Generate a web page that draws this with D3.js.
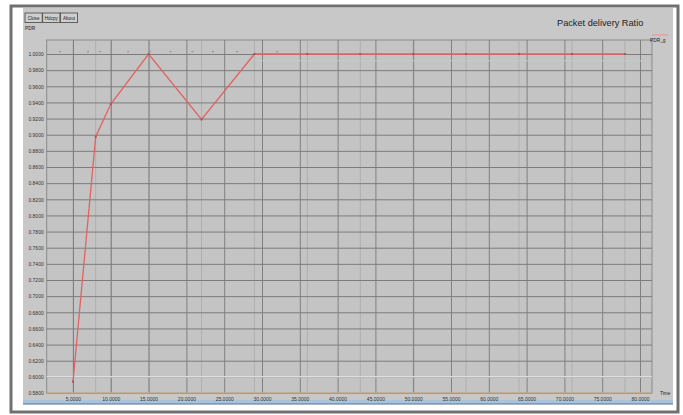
<!DOCTYPE html>
<html>
<head>
<meta charset="utf-8">
<script src="https://cdn.jsdelivr.net/npm/d3@7"></script>
<style>
body { margin: 0; background: #fff; }
svg { display: block; }
text { font-family: "Liberation Sans", Arial, sans-serif; }
</style>
</head>
<body>
<svg id="chart" width="683" height="415"></svg>
<script>
// PDR over time
var timeVals = [5, 8, 10, 15, 22, 29, 36, 43, 50, 57, 64, 71, 78]
var pdrVals = [0.594, 0.8975, 0.938, 1.0, 0.919, 1.0, 1.0, 1.0, 1.0, 1.0, 1.0, 1.0, 1.0]

// faint marker series along the top
var markTimes = [3.3, 7, 8.6, 12.3, 15.2, 17.9, 20.8, 23.5, 26.7, 32]
var markVals = [1.003, 1.003, 1.003, 1.003, 1.003, 1.003, 1.003, 1.003, 1.003, 1.003]

var xTicks = [5, 10, 15, 20, 25, 30, 35, 40, 45, 50, 55, 60, 65, 70, 75, 80]
var yTicks = [1.00, 0.98, 0.96, 0.94, 0.92, 0.90, 0.88, 0.86, 0.84, 0.82, 0.80,
	0.78, 0.76, 0.74, 0.72, 0.70, 0.68, 0.66, 0.64, 0.62, 0.60, 0.58]

var svg = d3.select("#chart")

var x = d3.scaleLinear().domain([0, 80]).range([35.2, 640])
var y = d3.scaleLinear().domain([0.58, 1.0]).range([393, 54])

var pLeft = 46.7, pRight = 652, pTop = 40, pBottom = 393

// window frame
svg.append("rect").attr("x", 11).attr("y", 6).attr("width", 667).attr("height", 406)
	.attr("fill", "#fff").attr("stroke", "#707070").attr("stroke-width", 3)
svg.append("rect").attr("x", 23).attr("y", 8).attr("width", 650).attr("height", 396)
	.attr("fill", "#c8c8c8")
svg.append("rect").attr("x", pLeft).attr("y", pTop).attr("width", pRight - pLeft).attr("height", pBottom - pTop)
	.attr("fill", "#c4c4c4").attr("stroke", "#8a8a8a")

// taskbar strip at the bottom
svg.append("rect").attr("x", 23).attr("y", 400).attr("width", 650).attr("height", 3.5)
	.attr("fill", "#a9c3dc")
svg.append("line").attr("x1", 23).attr("x2", 673).attr("y1", 404).attr("y2", 404)
	.attr("stroke", "#4f6f93").attr("stroke-width", 1.2)

// buttons
var buttons = ["Close", "Hdcpy", "About"]
svg.selectAll(".btn")
	.data(buttons)
	.join("g")
	.classed("btn", true)
	.attr("transform", (d, i) => "translate(" + (25 + i * 17.7) + ",13)")
	.each(function(d) {
		let g = d3.select(this)
		g.append("rect").attr("width", 17.2).attr("height", 9.5)
			.attr("fill", "#cfcfcf").attr("stroke", "#444").attr("stroke-width", 0.8)
		g.append("text").attr("x", 8.6).attr("y", 6.6).attr("text-anchor", "middle")
			.attr("font-size", 4.6).attr("fill", "#222").text(d)
	})

// grid: vertical lines at data points (light)
svg.append("g")
	.selectAll("line")
	.data(timeVals)
	.join("line")
	.attr("x1", d => x(d)).attr("x2", d => x(d))
	.attr("y1", pTop).attr("y2", pBottom)
	.attr("stroke", "#aaaaaa").attr("stroke-width", 0.8)

// x axis with grid
var xAxis = svg.append("g")
	.attr("transform", "translate(0," + pBottom + ")")
	.call(d3.axisBottom(x).tickValues(xTicks).tickFormat(d3.format(".4f")).tickSize(-(pBottom - pTop)).tickPadding(4))
xAxis.select(".domain").remove()
xAxis.selectAll("line").attr("stroke", "#808080").attr("stroke-width", 1)
xAxis.selectAll("text").attr("font-size", 5).attr("fill", "#333")

// y axis with grid
var yAxis = svg.append("g")
	.attr("transform", "translate(" + pLeft + ",0)")
	.call(d3.axisLeft(y).tickValues(yTicks).tickFormat(d3.format(".4f")).tickSize(-(pRight - pLeft)).tickPadding(3))
yAxis.select(".domain").remove()
yAxis.selectAll("line").attr("stroke", "#7c7c7c").attr("stroke-width", 1)
yAxis.selectAll("text").attr("font-size", 5).attr("fill", "#333").attr("dy", "0.35em")

// light series lines at 0.60 and along the bottom
svg.append("line").attr("x1", pLeft).attr("x2", pRight).attr("y1", y(0.60)).attr("y2", y(0.60))
	.attr("stroke", "#ececec").attr("stroke-width", 1.2)
svg.append("line").attr("x1", pLeft).attr("x2", pRight).attr("y1", y(0.58)).attr("y2", y(0.58))
	.attr("stroke", "#d9b98e").attr("stroke-width", 1)
svg.append("line").attr("x1", x(29)).attr("x2", pRight - 10).attr("y1", y(0.9915)).attr("y2", y(0.9915))
	.attr("stroke", "#bcd0c4").attr("stroke-width", 1)

// PDR line
var line = d3.line().x((d, i) => x(timeVals[i])).y(d => y(d))
svg.append("path")
	.datum(pdrVals)
	.attr("d", line)
	.attr("fill", "none")
	.attr("stroke", "#e36161")
	.attr("stroke-width", 1.3)

svg.append("g")
	.selectAll("rect")
	.data(pdrVals)
	.join("rect")
	.attr("x", (d, i) => x(timeVals[i]) - 1)
	.attr("y", d => y(d) - 1)
	.attr("width", 2).attr("height", 2)
	.attr("fill", "#b05050")

svg.append("g")
	.selectAll("rect")
	.data(markVals)
	.join("rect")
	.attr("x", (d, i) => x(markTimes[i]) - 1)
	.attr("y", d => y(d) - 0.7)
	.attr("width", 2).attr("height", 1.4)
	.attr("fill", "#9a9a9a")

// labels
svg.append("text").attr("x", 25).attr("y", 30).attr("font-size", 4.8).attr("fill", "#222").text("PDR")
svg.append("text").attr("x", 660).attr("y", 395).attr("font-size", 4.8).attr("fill", "#222").text("Time")
svg.append("text").attr("x", 557).attr("y", 26).attr("font-size", 9.2).attr("fill", "#222").text("Packet delivery Ratio")

// legend
svg.append("line").attr("x1", 652).attr("x2", 668).attr("y1", 35).attr("y2", 35)
	.attr("stroke", "#e9a0a0").attr("stroke-width", 1.5)
svg.append("text").attr("x", 650).attr("y", 42).attr("font-size", 4.8).attr("fill", "#222").text("PDR_g")
</script>
</body>
</html>
